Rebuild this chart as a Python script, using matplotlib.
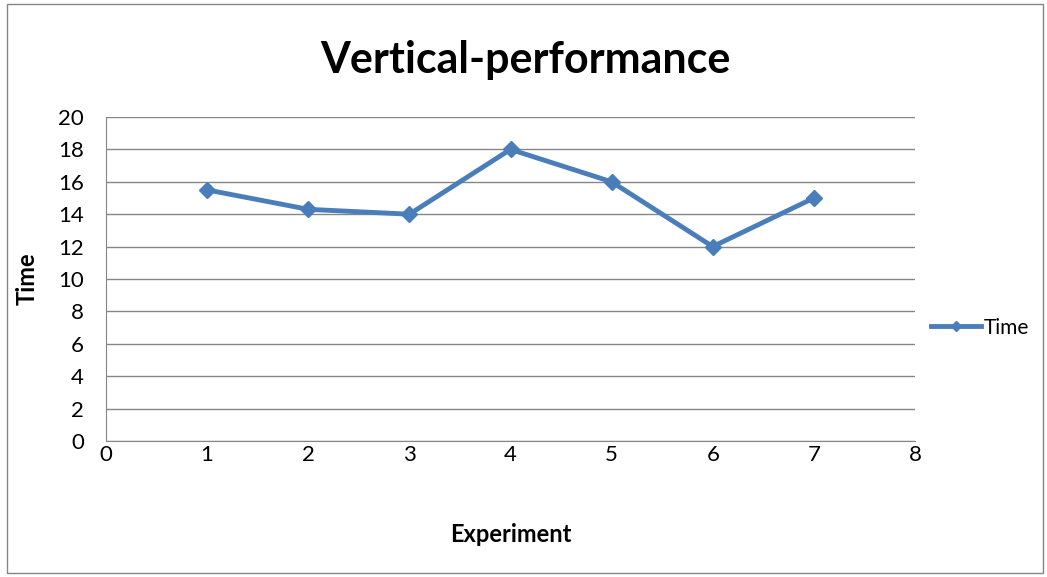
import matplotlib.pyplot as plt
from matplotlib.patches import Rectangle

# data
experiment = [1, 2, 3, 4, 5, 6, 7]
time_values = [15.5, 14.3, 14.0, 18.0, 16.0, 12.0, 15.0]
x_ticks = [0, 1, 2, 3, 4, 5, 6, 7, 8]
y_ticks = [0, 2, 4, 6, 8, 10, 12, 14, 16, 18, 20]

plt.rcParams['font.family'] = ['Lato', 'DejaVu Sans']

fig = plt.figure(figsize=(10.47, 5.77), dpi=100)
ax = fig.add_axes([106 / 1047, 1 - 441 / 577, (915 - 106) / 1047, (441 - 117) / 577])

# outer chart border
fig.patches.append(Rectangle((7 / 1047, 4 / 577), (1043 - 7) / 1047, (573 - 4) / 577,
                             transform=fig.transFigure, fill=False,
                             edgecolor='#868686', linewidth=1))

ax.plot(experiment, time_values, color='#4a7ebb', linewidth=3.5,
        marker='D', markersize=8, label='Time')

ax.set_xlim(0, 8)
ax.set_ylim(0, 20)
ax.set_xticks(x_ticks)
ax.set_yticks(y_ticks)
ax.tick_params(axis='both', labelsize=16, length=0)
ax.tick_params(axis='y', pad=16)
ax.tick_params(axis='x', pad=3)
ax.grid(axis='y', color='#868686', linewidth=1)
ax.set_axisbelow(True)
for side in ['top', 'right']:
    ax.spines[side].set_visible(False)
for side in ['left', 'bottom']:
    ax.spines[side].set_color('#868686')

ax.set_xlabel('Experiment', fontsize=17, fontweight='bold', labelpad=42)
ax.set_ylabel('Time', fontsize=17, fontweight='bold', labelpad=14)
fig.text(525 / 1047, 1 - 60 / 577, 'Vertical-performance', fontsize=31,
         fontweight='bold', ha='center', va='center')

ax.legend(loc='center left', bbox_to_anchor=(1.02, 0.35), frameon=False,
          borderaxespad=0, borderpad=0, fontsize=15, handlelength=2.4,
          handletextpad=0.1, markerscale=0.6)

fig.savefig('out.png', dpi=100)
